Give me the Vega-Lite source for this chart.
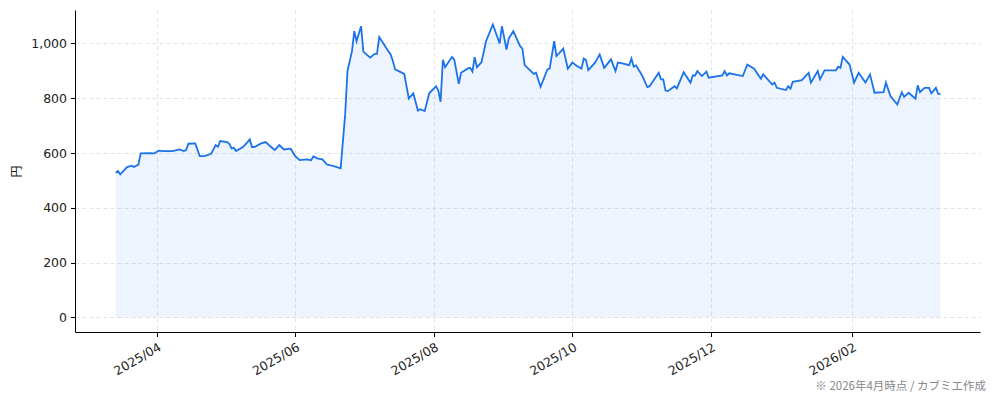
{
  "$schema": "https://vega.github.io/schema/vega-lite/v6.json",
  "width": 905,
  "height": 322,
  "autosize": {"type": "none"},
  "padding": {"left": 75, "top": 10, "right": 14, "bottom": 69},
  "title": {
    "text": "※ 2026年4月時点 / カブミエ作成",
    "orient": "bottom",
    "anchor": "end",
    "frame": "group",
    "font": "Noto Sans CJK JP",
    "fontSize": 11.5,
    "fontWeight": "normal",
    "color": "#888888",
    "dx": 6,
    "offset": 4
  },
  "config": {
    "font": "Noto Sans CJK JP",
    "view": {"stroke": null},
    "axis": {
      "domainColor": "#000000",
      "tickColor": "#000000",
      "tickSize": 4.5,
      "labelFont": "DejaVu Sans",
      "labelFontSize": 12.5,
      "labelColor": "#222222",
      "gridColor": "#dddddd",
      "gridDash": [4, 3],
      "gridWidth": 0.8
    }
  },
  "data": {
    "values": [
      {"date": "2025-03-14", "price": 528},
      {"date": "2025-03-15", "price": 534},
      {"date": "2025-03-16", "price": 522},
      {"date": "2025-03-19", "price": 549},
      {"date": "2025-03-21", "price": 554},
      {"date": "2025-03-22", "price": 549},
      {"date": "2025-03-24", "price": 558},
      {"date": "2025-03-25", "price": 599},
      {"date": "2025-03-29", "price": 600},
      {"date": "2025-03-31", "price": 599},
      {"date": "2025-04-02", "price": 609},
      {"date": "2025-04-04", "price": 607},
      {"date": "2025-04-08", "price": 607},
      {"date": "2025-04-11", "price": 613},
      {"date": "2025-04-13", "price": 607},
      {"date": "2025-04-14", "price": 611},
      {"date": "2025-04-15", "price": 634},
      {"date": "2025-04-18", "price": 635},
      {"date": "2025-04-20", "price": 589},
      {"date": "2025-04-22", "price": 589},
      {"date": "2025-04-25", "price": 597},
      {"date": "2025-04-27", "price": 629},
      {"date": "2025-04-28", "price": 623},
      {"date": "2025-04-29", "price": 644},
      {"date": "2025-05-02", "price": 640},
      {"date": "2025-05-03", "price": 634},
      {"date": "2025-05-04", "price": 617},
      {"date": "2025-05-05", "price": 619},
      {"date": "2025-05-06", "price": 607},
      {"date": "2025-05-09", "price": 622},
      {"date": "2025-05-11", "price": 640},
      {"date": "2025-05-12", "price": 650},
      {"date": "2025-05-13", "price": 622},
      {"date": "2025-05-14", "price": 622},
      {"date": "2025-05-17", "price": 635},
      {"date": "2025-05-19", "price": 640},
      {"date": "2025-05-21", "price": 625},
      {"date": "2025-05-23", "price": 611},
      {"date": "2025-05-25", "price": 629},
      {"date": "2025-05-27", "price": 613},
      {"date": "2025-05-30", "price": 616},
      {"date": "2025-06-01", "price": 589},
      {"date": "2025-06-03", "price": 574},
      {"date": "2025-06-06", "price": 577},
      {"date": "2025-06-08", "price": 574},
      {"date": "2025-06-09", "price": 588},
      {"date": "2025-06-11", "price": 580},
      {"date": "2025-06-13", "price": 577},
      {"date": "2025-06-15", "price": 558},
      {"date": "2025-06-18", "price": 552},
      {"date": "2025-06-21", "price": 544},
      {"date": "2025-06-23", "price": 741},
      {"date": "2025-06-24", "price": 899},
      {"date": "2025-06-26", "price": 972},
      {"date": "2025-06-27", "price": 1045},
      {"date": "2025-06-28", "price": 1008},
      {"date": "2025-06-30", "price": 1063},
      {"date": "2025-07-01", "price": 970},
      {"date": "2025-07-04", "price": 948},
      {"date": "2025-07-06", "price": 962},
      {"date": "2025-07-07", "price": 962},
      {"date": "2025-07-08", "price": 1023},
      {"date": "2025-07-11", "price": 984},
      {"date": "2025-07-13", "price": 960},
      {"date": "2025-07-14", "price": 936},
      {"date": "2025-07-15", "price": 905},
      {"date": "2025-07-17", "price": 897},
      {"date": "2025-07-19", "price": 889},
      {"date": "2025-07-21", "price": 799},
      {"date": "2025-07-23", "price": 818},
      {"date": "2025-07-25", "price": 755},
      {"date": "2025-07-26", "price": 760},
      {"date": "2025-07-28", "price": 753},
      {"date": "2025-07-30", "price": 818},
      {"date": "2025-08-02", "price": 844},
      {"date": "2025-08-03", "price": 828},
      {"date": "2025-08-04", "price": 787},
      {"date": "2025-08-05", "price": 940},
      {"date": "2025-08-06", "price": 913},
      {"date": "2025-08-09", "price": 951},
      {"date": "2025-08-10", "price": 942},
      {"date": "2025-08-12", "price": 853},
      {"date": "2025-08-13", "price": 893},
      {"date": "2025-08-16", "price": 909},
      {"date": "2025-08-17", "price": 911},
      {"date": "2025-08-18", "price": 897},
      {"date": "2025-08-19", "price": 950},
      {"date": "2025-08-20", "price": 913},
      {"date": "2025-08-22", "price": 932},
      {"date": "2025-08-24", "price": 1008},
      {"date": "2025-08-27", "price": 1069},
      {"date": "2025-08-30", "price": 1000},
      {"date": "2025-08-31", "price": 1063},
      {"date": "2025-09-02", "price": 978},
      {"date": "2025-09-03", "price": 1018},
      {"date": "2025-09-05", "price": 1045},
      {"date": "2025-09-08", "price": 990},
      {"date": "2025-09-09", "price": 981},
      {"date": "2025-09-10", "price": 921},
      {"date": "2025-09-13", "price": 897},
      {"date": "2025-09-14", "price": 889},
      {"date": "2025-09-15", "price": 893},
      {"date": "2025-09-17", "price": 842},
      {"date": "2025-09-20", "price": 905},
      {"date": "2025-09-21", "price": 908},
      {"date": "2025-09-23", "price": 1008},
      {"date": "2025-09-24", "price": 954},
      {"date": "2025-09-27", "price": 981},
      {"date": "2025-09-29", "price": 908},
      {"date": "2025-10-01", "price": 930},
      {"date": "2025-10-03", "price": 918},
      {"date": "2025-10-05", "price": 908},
      {"date": "2025-10-06", "price": 945},
      {"date": "2025-10-07", "price": 939},
      {"date": "2025-10-08", "price": 903},
      {"date": "2025-10-11", "price": 930},
      {"date": "2025-10-13", "price": 960},
      {"date": "2025-10-15", "price": 911},
      {"date": "2025-10-18", "price": 942},
      {"date": "2025-10-20", "price": 899},
      {"date": "2025-10-21", "price": 930},
      {"date": "2025-10-23", "price": 927},
      {"date": "2025-10-26", "price": 921},
      {"date": "2025-10-27", "price": 945},
      {"date": "2025-10-28", "price": 915},
      {"date": "2025-10-29", "price": 920},
      {"date": "2025-10-31", "price": 893},
      {"date": "2025-11-01", "price": 878},
      {"date": "2025-11-03", "price": 841},
      {"date": "2025-11-04", "price": 844},
      {"date": "2025-11-08", "price": 893},
      {"date": "2025-11-09", "price": 869},
      {"date": "2025-11-10", "price": 869},
      {"date": "2025-11-11", "price": 828},
      {"date": "2025-11-12", "price": 826},
      {"date": "2025-11-15", "price": 844},
      {"date": "2025-11-16", "price": 836},
      {"date": "2025-11-19", "price": 895},
      {"date": "2025-11-22", "price": 857},
      {"date": "2025-11-23", "price": 883},
      {"date": "2025-11-24", "price": 883},
      {"date": "2025-11-25", "price": 899},
      {"date": "2025-11-27", "price": 881},
      {"date": "2025-11-29", "price": 897},
      {"date": "2025-11-30", "price": 875},
      {"date": "2025-12-06", "price": 883},
      {"date": "2025-12-07", "price": 899},
      {"date": "2025-12-08", "price": 883},
      {"date": "2025-12-09", "price": 891},
      {"date": "2025-12-15", "price": 881},
      {"date": "2025-12-17", "price": 923},
      {"date": "2025-12-20", "price": 908},
      {"date": "2025-12-22", "price": 883},
      {"date": "2025-12-23", "price": 871},
      {"date": "2025-12-24", "price": 887},
      {"date": "2025-12-28", "price": 850},
      {"date": "2025-12-29", "price": 857},
      {"date": "2025-12-30", "price": 838},
      {"date": "2026-01-03", "price": 830},
      {"date": "2026-01-04", "price": 844},
      {"date": "2026-01-05", "price": 835},
      {"date": "2026-01-06", "price": 860},
      {"date": "2026-01-10", "price": 866},
      {"date": "2026-01-13", "price": 893},
      {"date": "2026-01-14", "price": 857},
      {"date": "2026-01-17", "price": 899},
      {"date": "2026-01-18", "price": 869},
      {"date": "2026-01-20", "price": 902},
      {"date": "2026-01-25", "price": 902},
      {"date": "2026-01-26", "price": 915},
      {"date": "2026-01-27", "price": 911},
      {"date": "2026-01-28", "price": 951},
      {"date": "2026-01-31", "price": 923},
      {"date": "2026-02-02", "price": 857},
      {"date": "2026-02-04", "price": 893},
      {"date": "2026-02-07", "price": 857},
      {"date": "2026-02-09", "price": 887},
      {"date": "2026-02-11", "price": 820},
      {"date": "2026-02-15", "price": 822},
      {"date": "2026-02-16", "price": 857},
      {"date": "2026-02-18", "price": 808},
      {"date": "2026-02-21", "price": 777},
      {"date": "2026-02-23", "price": 822},
      {"date": "2026-02-24", "price": 805},
      {"date": "2026-02-26", "price": 820},
      {"date": "2026-03-01", "price": 798},
      {"date": "2026-03-02", "price": 847},
      {"date": "2026-03-03", "price": 822},
      {"date": "2026-03-05", "price": 838},
      {"date": "2026-03-07", "price": 838},
      {"date": "2026-03-08", "price": 818},
      {"date": "2026-03-10", "price": 838},
      {"date": "2026-03-11", "price": 816},
      {"date": "2026-03-12", "price": 816}
    ]
  },
  "encoding": {
    "x": {
      "field": "date",
      "type": "temporal",
      "title": null,
      "scale": {
        "type": "utc",
        "domain": [
          {"year": 2025, "month": 2, "date": 24, "hours": 2, "utc": true},
          {"year": 2026, "month": 3, "date": 29, "hours": 10, "utc": true}
        ]
      },
      "axis": {
        "values": [
          {"year": 2025, "month": 4, "date": 1, "utc": true},
          {"year": 2025, "month": 6, "date": 1, "utc": true},
          {"year": 2025, "month": 8, "date": 1, "utc": true},
          {"year": 2025, "month": 10, "date": 1, "utc": true},
          {"year": 2025, "month": 12, "date": 1, "utc": true},
          {"year": 2026, "month": 2, "date": 1, "utc": true}
        ],
        "labelExpr": "utcFormat(datum.value, '%Y/%m')",
        "labelAngle": -30,
        "labelAlign": "right",
        "labelBaseline": "top",
        "labelPadding": 4,
        "grid": true
      }
    },
    "y": {
      "field": "price",
      "type": "quantitative",
      "title": "円",
      "scale": {"domain": [-53, 1122], "nice": false, "zero": false},
      "axis": {
        "values": [0, 200, 400, 600, 800, 1000],
        "labelExpr": "format(datum.value, ',.0f')",
        "labelPadding": 4,
        "grid": true,
        "titleFont": "Noto Sans CJK JP",
        "titleFontSize": 12,
        "titleFontWeight": "normal",
        "titleColor": "#222222",
        "titlePadding": 7
      }
    }
  },
  "layer": [
    {
      "mark": {"type": "area", "color": "#1a73e8", "opacity": 0.08},
      "encoding": {"y2": {"datum": 0}}
    },
    {
      "mark": {"type": "line", "color": "#1a73e8", "strokeWidth": 1.8}
    }
  ]
}
